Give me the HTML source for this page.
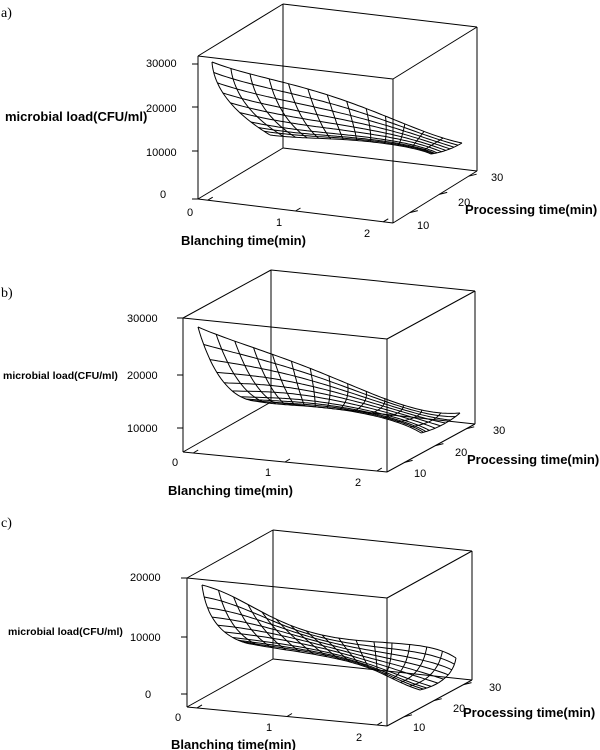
<!DOCTYPE html>
<html><head><meta charset="utf-8"><style>
html,body{margin:0;padding:0;background:#fff;}
svg{display:block;}
text{font-family:"Liberation Sans",sans-serif;fill:#000;}
.t{font-size:11px;}
.b{font-size:13px;font-weight:bold;}
.bs{font-size:10.5px;font-weight:bold;}
.p{font-family:"Liberation Serif",serif;font-size:14px;}
</style></head><body>
<svg id="s" width="600" height="750" viewBox="0 0 600 750" xmlns="http://www.w3.org/2000/svg">
<g id="g" fill="none" stroke="#000" stroke-width="1"></g>
<text class="p" x="1" y="17">a)</text>
<text class="t" x="146" y="67">30000</text>
<text class="t" x="146" y="112">20000</text>
<text class="t" x="146" y="156">10000</text>
<text class="t" x="160" y="198">0</text>
<text class="b" x="5" y="121">microbial load(CFU/ml)</text>
<text class="t" x="187" y="216">0</text>
<text class="t" x="276" y="226">1</text>
<text class="t" x="364" y="237">2</text>
<text class="b" x="181" y="245">Blanching time(min)</text>
<text class="t" x="491" y="181">30</text>
<text class="t" x="458" y="206">20</text>
<text class="t" x="417" y="229">10</text>
<text class="b" x="465" y="214">Processing time(min)</text>
<text class="p" x="1" y="297">b)</text>
<text class="t" x="127" y="322">30000</text>
<text class="t" x="127" y="379">20000</text>
<text class="t" x="127" y="432">10000</text>
<text class="bs" x="3" y="379">microbial load(CFU/ml)</text>
<text class="t" x="172" y="466">0</text>
<text class="t" x="265" y="476">1</text>
<text class="t" x="355" y="486">2</text>
<text class="b" x="168" y="495">Blanching time(min)</text>
<text class="t" x="493" y="434">30</text>
<text class="t" x="455" y="456">20</text>
<text class="t" x="414" y="477">10</text>
<text class="b" x="467" y="464">Processing time(min)</text>
<text class="p" x="1" y="527">c)</text>
<text class="t" x="130" y="581">20000</text>
<text class="t" x="130" y="641">10000</text>
<text class="t" x="145" y="698">0</text>
<text class="bs" x="8" y="635">microbial load(CFU/ml)</text>
<text class="t" x="175" y="721">0</text>
<text class="t" x="266" y="731">1</text>
<text class="t" x="356" y="741">2</text>
<text class="b" x="171" y="749">Blanching time(min)</text>
<text class="t" x="489" y="691">30</text>
<text class="t" x="453" y="712">20</text>
<text class="t" x="413" y="731">10</text>
<text class="b" x="463" y="717">Processing time(min)</text>
</svg>
<script>
var g=document.getElementById('g'),out='';
function L(a,b){out+='<line x1="'+a[0]+'" y1="'+a[1]+'" x2="'+b[0]+'" y2="'+b[1]+'"/>';}
function lerp(a,b,f){return [a[0]+(b[0]-a[0])*f,a[1]+(b[1]-a[1])*f];}
function box(B,zt){
 L(B.FLB,B.FLT);L(B.FLT,B.FRT);L(B.FRT,B.FRB);L(B.FRB,B.FLB);
 L(B.FLT,B.BLT);L(B.BLT,B.BRT);L(B.BRT,B.FRT);L(B.BRT,B.BRB);L(B.BRB,B.FRB);
 L(B.BLT,B.BLB);L(B.BLB,B.FLB);L(B.BLB,B.BRB);
 zt.forEach(function(y){L([B.FLB[0]-6,y],[B.FLB[0],y]);});
 [0.05,0.5,0.95].forEach(function(f){var p=lerp(B.FLB,B.FRB,f);L(p,[p[0]+5,p[1]-3]);});
 [0.2,0.55,0.9].forEach(function(f){var p=lerp(B.FRB,B.BRB,f);L(p,[p[0]+8,p[1]-2]);});
}
function lag(xs,x,i){var r=1;for(var j=0;j<xs.length;j++)if(j!=i)r*=(x-xs[j])/(xs[i]-xs[j]);return r;}
var TS=[0,.25,.5,.75,1],SS=[0,.5,1];
function P(C,s,t){var x=0,y=0;for(var i=0;i<3;i++){var a=lag(SS,s,i);for(var j=0;j<5;j++){var w=a*lag(TS,t,j);x+=w*C[i][j][0];y+=w*C[i][j][1];}}return [x,y];}
function sm(u){return u<0.7?u*0.85/0.7:0.85+(u-0.7)*0.15/0.3;}
function mesh(C,NS,NT){
 for(var k=0;k<=NS;k++){var s=sm(k/NS),pts=[];for(var m=0;m<=60;m++){var p=P(C,s,m/60);pts.push(p[0].toFixed(1)+','+p[1].toFixed(1));}out+='<polyline points="'+pts.join(' ')+'"/>';}
 for(var j=0;j<=NT;j++){var t=j/NT,pts=[];for(var m=0;m<=30;m++){var p=P(C,sm(m/30),t);pts.push(p[0].toFixed(1)+','+p[1].toFixed(1));}out+='<polyline points="'+pts.join(' ')+'"/>';}
}
box({FLB:[198,199],FLT:[198,56],FRT:[393,79],FRB:[393,223],BLT:[283,4],BRT:[477,27],BLB:[283,148],BRB:[477,171]},[64,107,151,199]);
mesh([[[212,62],[274,80],[337,98],[400,122],[462,143]],
      [[228,100],[288,114],[345,124],[398,135],[447,150]],
      [[270,135],[310,138],[350,140],[395,145],[431,154]]],9,13);
box({FLB:[183,452],FLT:[183,318],FRT:[387,339],FRB:[387,472],BLT:[271,270],BRT:[475,291],BLB:[271,402],BRB:[475,424]},[318,375,428]);
mesh([[[198,327],[263,351],[329,376],[394,402],[460,413]],
      [[222,380],[276,384],[330,394],[390,410],[442,425]],
      [[254,401],[290,405],[327,408],[375,416],[421,433]]],9,14);
box({FLB:[187,707],FLT:[187,578],FRT:[387,598],FRB:[387,726],BLT:[273,530],BRT:[472,551],BLB:[273,659],BRB:[472,680]},[578,637,694]);
mesh([[[202,585],[262,612],[322,635],[392,643],[456,658]],
      [[216,623],[280,634],[335,648],[390,662],[445,678]],
      [[246,643],[300,652],[350,662],[385,675],[420,690]]],9,16);
g.innerHTML=out;
</script>
</body></html>
